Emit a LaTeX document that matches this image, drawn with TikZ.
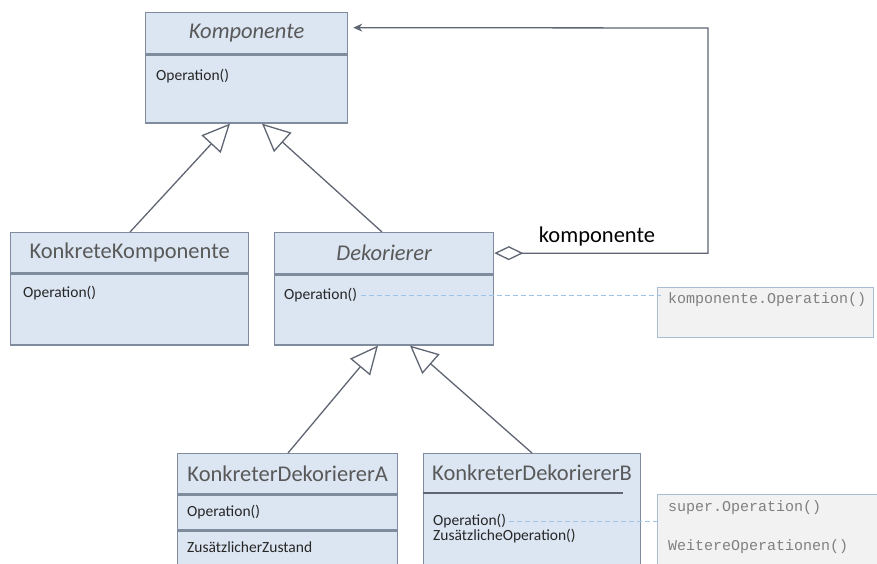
\documentclass[tikz,border=0pt]{standalone}
\usepackage{fontspec}
\setmainfont{Carlito}
\newfontfamily\codefont{Liberation Mono}
\usetikzlibrary{arrows.meta,positioning}

\definecolor{boxfill}{HTML}{DCE6F2}
\definecolor{boxline}{HTML}{7F8C9D}
\definecolor{linegray}{HTML}{5F6672}
\definecolor{titlegray}{HTML}{595959}
\definecolor{notefill}{HTML}{F2F2F2}
\definecolor{noteline}{HTML}{A9BCD3}
\definecolor{dashblue}{HTML}{9DC3E6}

\tikzset{
  classhead/.style={draw=boxline, fill=boxfill, line width=1.3pt, inner sep=0pt,
    minimum height=41pt, anchor=north west, text=titlegray,
    font=\fontsize{22.5}{26}\selectfont},
  classbody/.style={draw=boxline, fill=boxfill, line width=1.3pt, inner sep=0pt},
  optext/.style={inner sep=0pt, anchor=west, text=black!85,
    font=\fontsize{15.5}{18}\selectfont},
  notebox/.style={draw=noteline, fill=notefill, line width=1.2pt, inner sep=0pt,
    anchor=north west},
  notetext/.style={inner sep=0pt, anchor=west, text=black!50,
    font=\codefont\fontsize{15}{18}\selectfont},
  inherit/.style={draw=linegray, line width=1.3pt,
    -{Triangle[open, length=28pt, width=26pt, fill=white]}},
  notelink/.style={draw=dashblue, line width=0.9pt, dash pattern=on 5pt off 3pt},
}

\begin{document}
\begin{tikzpicture}[x=1pt, y=-1pt]
    \clip (0,0) rectangle (877,563);
    \fill[white] (0,0) rectangle (877,563);

    % Komponente
    \node[classhead, minimum width=202] (kompT) at (145,12) {\itshape Komponente};
    \node[classbody, minimum width=202, minimum height=68, below=0pt of kompT] (kompB) {};
    \node[optext] (kompOp) at (156,76) {Operation()};

    % KonkreteKomponente
    \node[classhead, minimum width=238, minimum height=40] (kkT) at (10,232) {KonkreteKomponente};
    \node[classbody, minimum width=238, minimum height=71, below=0pt of kkT] (kkB) {};
    \node[optext] (kkOp) at (23,293) {Operation()};

    % Dekorierer
    \node[classhead, minimum width=219] (dekT) at (274,232) {\itshape Dekorierer};
    \node[classbody, minimum width=219, minimum height=70, below=0pt of dekT] (dekB) {};
    \node[optext] (dekOp) at (284,295) {Operation()};

    % KonkreterDekoriererA
    \node[classhead, minimum width=220, minimum height=40] (kdAT) at (177,453) {KonkreterDekoriererA};
    \node[classbody, minimum width=220, minimum height=35, below=0pt of kdAT] (kdAB) {};
    \node[classbody, minimum width=220, minimum height=45, below=0pt of kdAB] (kdAC) {};
    \node[optext] (kdAOp) at (187,512) {Operation()};
    \node[optext] (kdAZu) at (187,547) {ZusätzlicherZustand};

    % KonkreterDekoriererB
    \node[classbody, minimum width=217, minimum height=120, anchor=north west] (kdB) at (423,453) {};
    \node[inner sep=0pt, text=titlegray, font=\fontsize{22.5}{26}\selectfont] (kdBT) at (532,473) {KonkreterDekoriererB};
    \draw[draw=linegray, line width=1.5pt] ([yshift=-40pt]kdB.north west) -- ++(200,0);
    \node[optext] (kdBOp) at (433,521) {Operation()};
    \node[optext] (kdBZu) at (433,536) {ZusätzlicheOperation()};

    % notes
    \node[notebox, minimum width=216, minimum height=50] (note1) at (657,287) {};
    \node[notetext] (note1Txt) at (668,300) {komponente.Operation()};
    \node[notebox, minimum width=230, minimum height=90] (note2) at (657,494) {};
    \node[notetext] (note2Txt) at (668,508) {super.Operation()};
    \node[notetext] (note2Wt) at (668,547) {WeitereOperationen()};

    \draw[notelink] ([xshift=4pt]dekOp.east) -- ([xshift=4pt]dekOp.east -| note1.west);
    \draw[notelink] ([xshift=3pt]kdBOp.east) -- ([xshift=3pt]kdBOp.east -| note2.west);

    % generalisation
    \draw[inherit] ([xshift=120pt]kkT.north west) -- ([xshift=85pt]kompB.south west);
    \draw[inherit] ([xshift=108pt]dekT.north west) -- ([xshift=117pt]kompB.south west);
    \draw[inherit] ([xshift=111pt]kdAT.north west) -- ([xshift=104pt]dekB.south west);
    \draw[inherit] ([xshift=109pt]kdB.north west) -- ([xshift=136pt]dekB.south west);

    % aggregation
    \coordinate (turn) at (708,28);
    \draw[draw=linegray, line width=1.3pt,
        {Diamond[open, length=29pt, width=14pt, fill=white]}-{Stealth[length=9pt, width=8pt]}]
        (dekT.east) -| (turn) -- ([xshift=5pt, yshift=5.5pt]kompT.east);
    \node[font=\fontsize{22.5}{26}\selectfont, inner sep=0pt] (aggrLabel) at (597,236) {komponente};
\end{tikzpicture}
\end{document}
